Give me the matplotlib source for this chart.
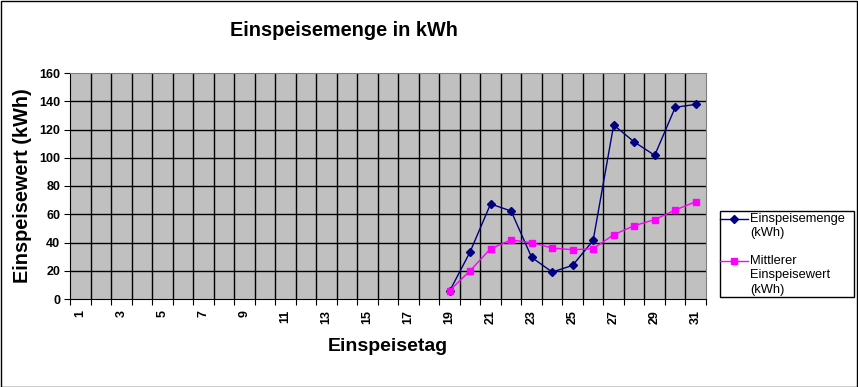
import matplotlib
matplotlib.use("Agg")
import matplotlib.pyplot as plt
import numpy as np
from matplotlib.patches import Rectangle
from matplotlib.lines import Line2D

plt.rcParams['font.family'] = ['Liberation Sans', 'DejaVu Sans']

days = list(range(1, 32))
menge_days = list(range(19, 32))
menge = [5.5, 33.3, 67.3, 62.3, 29.5, 19.1, 23.8, 41.5, 123.2, 111.2, 101.7, 135.7, 137.8]
mittel = [5.9, 20.0, 35.6, 41.8, 39.9, 36.1, 34.9, 35.6, 45.5, 51.9, 56.2, 63.0, 68.9]
yticks = [0, 20, 40, 60, 80, 100, 120, 140, 160]
labels = ['Einspeisemenge\n(kWh)', 'Mittlerer\nEinspeisewert\n(kWh)']
colors = ['#000080', '#FF00FF']
markers = ['D', 's']
msizes = [4.5, 5]

W, H = 858, 387
fig = plt.figure(figsize=(W / 100, H / 100), dpi=100)
fig.patch.set_facecolor('white')
fig.patches.append(Rectangle((0.5 / W, 0.5 / H), 1 - 1.5 / W, 1 - 1.5 / H, transform=fig.transFigure,
                             fill=False, edgecolor='black', linewidth=1.0))


def fx(px):
    return px / W


def fy(py):
    return 1 - py / H


x0, x1, y0, y1 = 70, 706, 73, 299
ax = fig.add_axes([fx(x0), fy(y1), (x1 - x0) / W, (y1 - y0) / H])
ax.set_facecolor('#C0C0C0')
ax.set_xlim(0.5, 31.5)
ax.set_ylim(0, 160)

for b in np.arange(1.5, 31.5, 1.0):
    ax.axvline(b, color='black', linewidth=1.0, zorder=1)
for v in yticks[1:-1]:
    ax.axhline(v, color='black', linewidth=1.0, zorder=1)

series = [menge, mittel]
for vals, c, m, ms, lab in zip(series, colors, markers, msizes, labels):
    ax.plot(menge_days, vals, color=c, marker=m, markersize=ms, linewidth=1.0, label=lab, zorder=3)

for s in ['top', 'right']:
    ax.spines[s].set_color('#808080')
for s in ['left', 'bottom']:
    ax.spines[s].set_color('black')

ax.set_yticks(yticks)
ax.set_yticklabels([str(v) for v in yticks], fontsize=9, fontweight='bold')
ax.set_xticks(np.arange(0.5, 32, 1.0))
ax.set_xticklabels([])
ax.set_xticks(days, minor=True)
ax.set_xticklabels([str(d) if d % 2 == 1 else '' for d in days], minor=True,
                   rotation=90, fontsize=9, fontweight='bold')
ax.tick_params(axis='x', which='minor', length=0, pad=8)
ax.tick_params(axis='x', which='major', direction='out', length=4)
ax.tick_params(axis='y', direction='out', length=4, pad=3)

ax.set_xlabel('Einspeisetag', fontsize=14, fontweight='bold', labelpad=10)
ax.set_ylabel('Einspeisewert (kWh)', fontsize=14.3, fontweight='bold', labelpad=5)

fig.text(fx(344), fy(31), 'Einspeisemenge in kWh', fontsize=14.3, fontweight='bold',
         ha='center', va='center')

# legend drawn by hand (handles aligned with first text line, like the original)
fig.patches.append(Rectangle((fx(720), fy(297)), (854 - 720) / W, (297 - 211) / H,
                             transform=fig.transFigure, fill=False, edgecolor='black', linewidth=1.0))
entry_y = [219, 261]
for ey, c, m, ms, lab in zip(entry_y, colors, markers, msizes, labels):
    fig.lines.append(Line2D([fx(720), fx(748)], [fy(ey), fy(ey)], transform=fig.transFigure,
                            color=c, linewidth=1.0))
    fig.lines.append(Line2D([fx(734)], [fy(ey)], transform=fig.transFigure, color=c,
                            marker=m, markersize=ms, linestyle='none'))
    fig.text(fx(750), fy(ey - 6), lab, fontsize=9.3, ha='left', va='top', linespacing=1.25)

fig.savefig('out.png', dpi=100, facecolor='white')
